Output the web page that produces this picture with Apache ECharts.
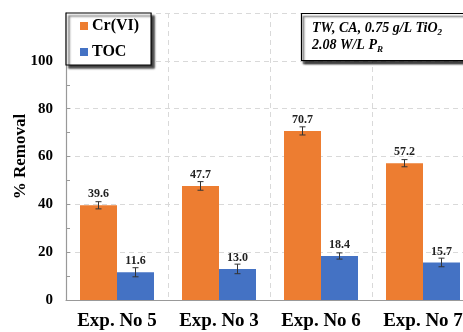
<!DOCTYPE html>
<html>
<head>
<meta charset="utf-8">
<script src="https://cdn.jsdelivr.net/npm/echarts@6/dist/echarts.min.js"></script>
<style>html,body{margin:0;padding:0;background:#fff}#c{width:463px;height:332px}</style>
</head>
<body>
<div id="c"></div>
<script>
const categories = ['Exp. No 5', 'Exp. No 3', 'Exp. No 6', 'Exp. No 7'];
const crValues = [39.6, 47.7, 70.7, 57.2];
const crErrors = [1.5, 1.8, 1.7, 1.5];
const tocValues = [11.6, 13.0, 18.4, 15.7];
const tocErrors = [1.9, 2.0, 1.3, 1.8];
const yTicks = [0, 20, 40, 60, 80, 100, 120];

const BAR_W = 37;
const serif = '"Liberation Serif", "Times New Roman", serif';

function errSeries(values, errs, side) {
  return {
    type: 'custom',
    z: 5,
    silent: true,
    data: values.map((v, i) => [i, v, errs[i]]),
    renderItem: function (params, api) {
      const i = api.value(0), v = api.value(1), e = api.value(2);
      const top = api.coord([i, v + e]);
      const bot = api.coord([i, v - e]);
      const x = top[0] + side * BAR_W / 2;
      const cap = 3;
      const st = { stroke: '#333', lineWidth: 1 };
      return {
        type: 'group',
        children: [
          { type: 'line', shape: { x1: x, y1: top[1], x2: x, y2: bot[1] }, style: st },
          { type: 'line', shape: { x1: x - cap, y1: top[1], x2: x + cap, y2: top[1] }, style: st },
          { type: 'line', shape: { x1: x - cap, y1: bot[1], x2: x + cap, y2: bot[1] }, style: st }
        ]
      };
    }
  };
}

const labelStyle = {
  show: true, position: 'top', distance: 5,
  fontFamily: serif, fontWeight: 'bold', fontSize: 12, color: '#222',
  formatter: p => p.value.toFixed(1)
};

const chart = echarts.init(document.getElementById('c'), null, { renderer: 'canvas' });
chart.setOption({
  animation: false,
  backgroundColor: '#fff',
  grid: { left: 66, width: 408, top: 13, bottom: 32, containLabel: false, outerBoundsMode: 'none' },
  title: {
    left: 301, top: 13,
    padding: [7, 30, 7, 11],
    backgroundColor: '#fff',
    borderColor: '#000', borderWidth: 1.2,
    shadowColor: 'rgba(0,0,0,0.75)', shadowBlur: 2, shadowOffsetX: 2, shadowOffsetY: 3,
    text: '{t|TW, CA, 0.75 g/L TiO}{s|2}\n{t|2.08 W/L P}{s|R}',
    textStyle: {
      lineHeight: 17,
      rich: {
        t: { fontFamily: serif, fontWeight: 'bold', fontStyle: 'italic', fontSize: 14, color: '#000', lineHeight: 17 },
        s: { fontFamily: serif, fontWeight: 'bold', fontStyle: 'italic', fontSize: 9, color: '#000', verticalAlign: 'bottom', padding: [6, 0, 0, 0], lineHeight: 17 }
      }
    }
  },
  legend: {
    left: 66, top: 13, orient: 'vertical',
    padding: [3, 12, 3, 14],
    itemGap: 6, itemWidth: 8, itemHeight: 8,
    backgroundColor: '#fff',
    borderColor: '#000', borderWidth: 1.2,
    shadowColor: 'rgba(0,0,0,0.75)', shadowBlur: 2, shadowOffsetX: 3, shadowOffsetY: 3,
    icon: 'rect',
    data: ['Cr(VI)', 'TOC'],
    textStyle: { fontFamily: serif, fontWeight: 'bold', fontSize: 16, color: '#000', lineHeight: 20, padding: [0, 0, 0, -1] }
  },
  xAxis: {
    type: 'category',
    data: categories,
    axisLine: { lineStyle: { color: '#999', width: 1.2 } },
    axisTick: { show: false },
    axisLabel: { interval: 0, fontFamily: serif, fontWeight: 'bold', fontSize: 19, color: '#000', margin: 12 },
    splitLine: { show: true, interval: 0, lineStyle: { color: '#d9d9d9', type: [5, 4], width: 1 } }
  },
  yAxis: {
    type: 'value',
    min: yTicks[0], max: yTicks[yTicks.length - 1], interval: 20,
    name: '% Removal',
    nameLocation: 'middle', nameGap: 37, nameMoveOverlap: false,
    nameTextStyle: { fontFamily: serif, fontWeight: 'bold', fontSize: 17, color: '#000' },
    axisLine: { show: true, lineStyle: { color: '#999', width: 1.2 } },
    axisTick: { show: true, inside: true, length: 4, lineStyle: { color: '#999' } },
    minorTick: { show: true, splitNumber: 2, length: 4, lineStyle: { color: '#999' } },
    axisLabel: {
      fontFamily: serif, fontWeight: 'bold', fontSize: 15, color: '#000', margin: 13,
      formatter: v => (v === 120 ? '' : String(v))
    },
    splitLine: { show: true, lineStyle: { color: '#d9d9d9', type: [5, 4], width: 1 } }
  },
  series: [
    { name: 'Cr(VI)', type: 'bar', data: crValues, barWidth: BAR_W, barGap: '0%',
      itemStyle: { color: '#ED7D31' }, label: labelStyle, z: 3 },
    { name: 'TOC', type: 'bar', data: tocValues, barWidth: BAR_W, barGap: '0%',
      itemStyle: { color: '#4472C4' }, label: labelStyle, z: 3 },
    errSeries(crValues, crErrors, -1),
    errSeries(tocValues, tocErrors, 1)
  ]
});
</script>
</body>
</html>
